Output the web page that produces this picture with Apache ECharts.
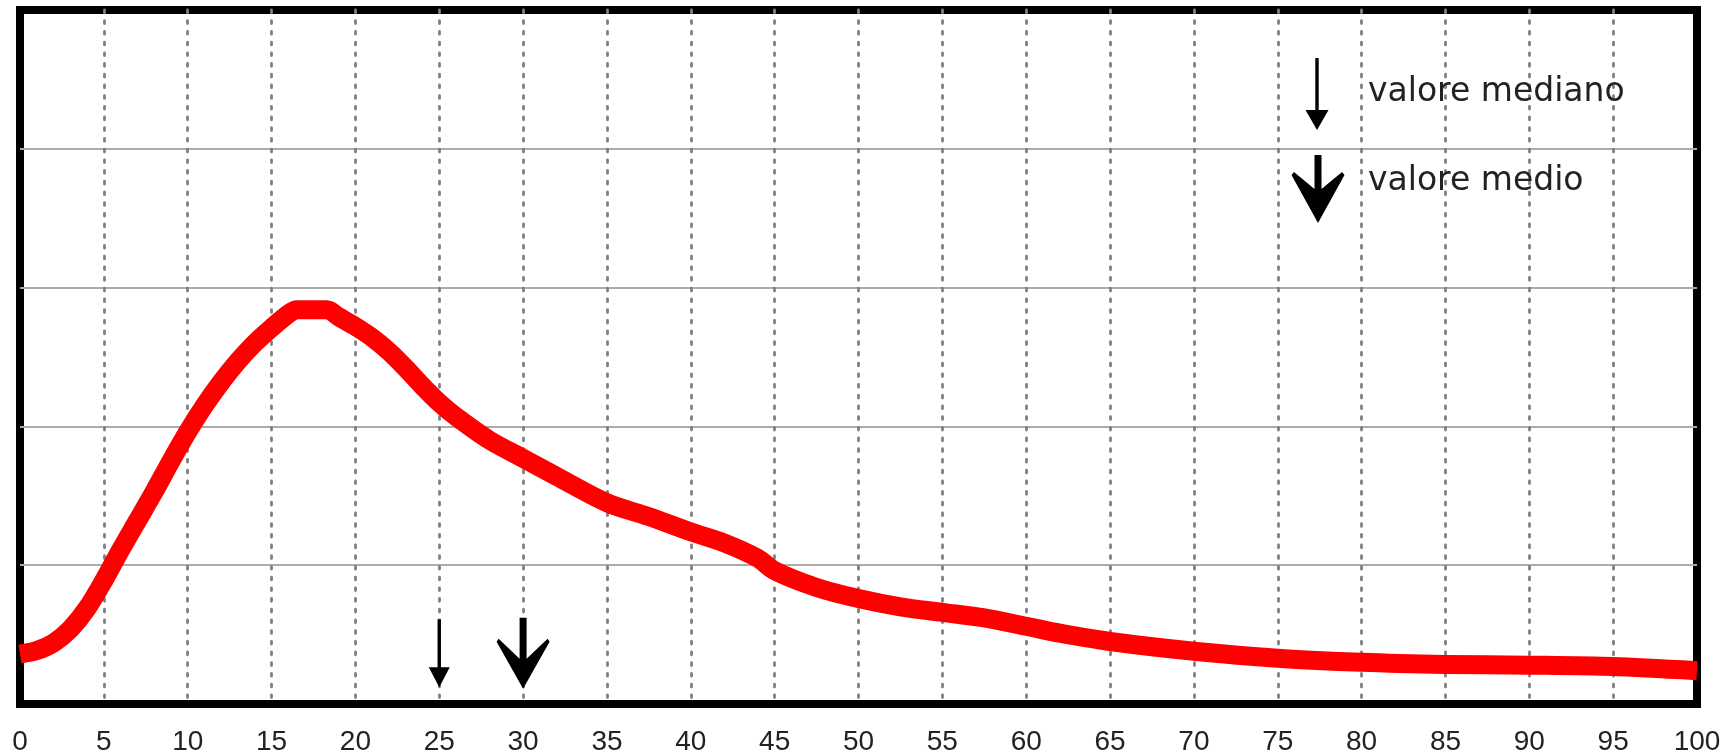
<!DOCTYPE html>
<html>
<head>
<meta charset="utf-8">
<script src="https://cdn.jsdelivr.net/npm/echarts@6/dist/echarts.min.js"></script>
<style>
html,body{margin:0;padding:0;background:#fff;}
#chart{width:1735px;height:756px;}
</style>
</head>
<body>
<div id="chart"></div>
<script>
// ---- data ----
const xValues = [0, 1, 2, 3, 4, 5, 6, 7, 8, 9, 10, 11, 12, 13, 14, 15, 16, 16.5, 18.3, 19, 20, 21, 22, 23, 24, 25, 26, 28, 30, 32, 35, 37.5, 40, 42, 44, 45, 47.5, 50, 52.5, 55, 57.5, 60, 62, 65, 70, 75, 80, 85, 90, 95, 100];
const yValues = [0.36, 0.385, 0.44, 0.54, 0.69, 0.89, 1.11, 1.32, 1.53, 1.75, 1.96, 2.15, 2.32, 2.47, 2.60, 2.71, 2.81, 2.84, 2.84, 2.79, 2.72, 2.64, 2.54, 2.42, 2.29, 2.17, 2.07, 1.90, 1.77, 1.64, 1.45, 1.35, 1.24, 1.16, 1.05, 0.96, 0.84, 0.76, 0.70, 0.66, 0.62, 0.56, 0.51, 0.45, 0.38, 0.33, 0.30, 0.285, 0.28, 0.27, 0.24];
const medianValue = 25;
const meanValue = 30;
const legendLabels = ['valore mediano', 'valore medio'];
const xMin = 0, xMax = 100, xStep = 5;
const yMin = 0, yMax = 5, yStep = 1;

// ---- styles ----
const thinArrow = 'path://M8.8 0 L12.2 0 L12.2 48 L21 48 L10.5 68 L0 48 L8.8 48 Z';
const thickArrow = 'path://M23 0 L30 0 L30 41 L51 21 L53 24 L26.5 71 L0 24 L2 21 L23 41 Z';
const arrowLevel = 0.365;

const chart = echarts.init(document.getElementById('chart'), null, {renderer: 'canvas'});

const lineData = xValues.map((x, i) => [x, yValues[i]]);

const option = {
  backgroundColor: '#ffffff',
  animation: false,
  grid: {
    left: 20, right: 38, top: 10, bottom: 50,
    show: true, borderColor: '#000', borderWidth: 8, backgroundColor: 'transparent'
  },
  xAxis: {
    type: 'value', min: xMin, max: xMax, interval: xStep,
    axisLine: {show: false},
    axisTick: {show: false},
    axisLabel: {
      show: true, margin: 24, fontSize: 28, color: '#222',
      fontFamily: 'Liberation Sans'
    },
    splitLine: {
      show: true, showMinLine: false, showMaxLine: false,
      lineStyle: {color: '#808080', width: 2.8, type: [2.8, 7.9], cap: 'round'}
    }
  },
  yAxis: {
    type: 'value', min: yMin, max: yMax, interval: yStep,
    axisLine: {show: false},
    axisTick: {show: false},
    axisLabel: {show: false},
    splitLine: {
      show: true, showMinLine: false, showMaxLine: false,
      lineStyle: {color: '#ababab', width: 2, type: 'solid'}
    }
  },
  series: [
    {
      type: 'line',
      data: lineData,
      showSymbol: false,
      symbol: 'none',
      smooth: 0.3,
      lineStyle: {color: '#ff0000', width: 19, join: 'round', cap: 'butt'},
      silent: true,
      z: 3
    },
    {
      type: 'scatter',
      silent: true,
      z: 4,
      data: [
        {value: [medianValue, arrowLevel], symbol: thinArrow, symbolSize: [21, 68]},
        {value: [meanValue, arrowLevel], symbol: thickArrow, symbolSize: [53, 71]}
      ],
      itemStyle: {color: '#000', opacity: 1}
    }
  ],
  graphic: [
    {
      type: 'polygon', silent: true, z: 10,
      shape: {points: [[1315.3,58],[1318.7,58],[1318.7,110],[1328.5,110],[1317,130],[1305.5,110],[1315.3,110]]},
      style: {fill: '#000'}
    },
    {
      type: 'polygon', silent: true, z: 10,
      shape: {points: [[1314.5,155],[1321.5,155],[1321.5,189],[1342,172],[1344.5,175],[1318,223],[1291.5,175],[1294,172],[1314.5,189]]},
      style: {fill: '#000'}
    },
    {
      type: 'text', silent: true, z: 10, left: 1368, top: 76,
      style: {text: legendLabels[0], fontSize: 33, fontFamily: 'DejaVu Sans', fill: '#222'}
    },
    {
      type: 'text', silent: true, z: 10, left: 1368, top: 165,
      style: {text: legendLabels[1], fontSize: 33, fontFamily: 'DejaVu Sans', fill: '#222'}
    }
  ]
};
chart.setOption(option);
</script>
</body>
</html>
